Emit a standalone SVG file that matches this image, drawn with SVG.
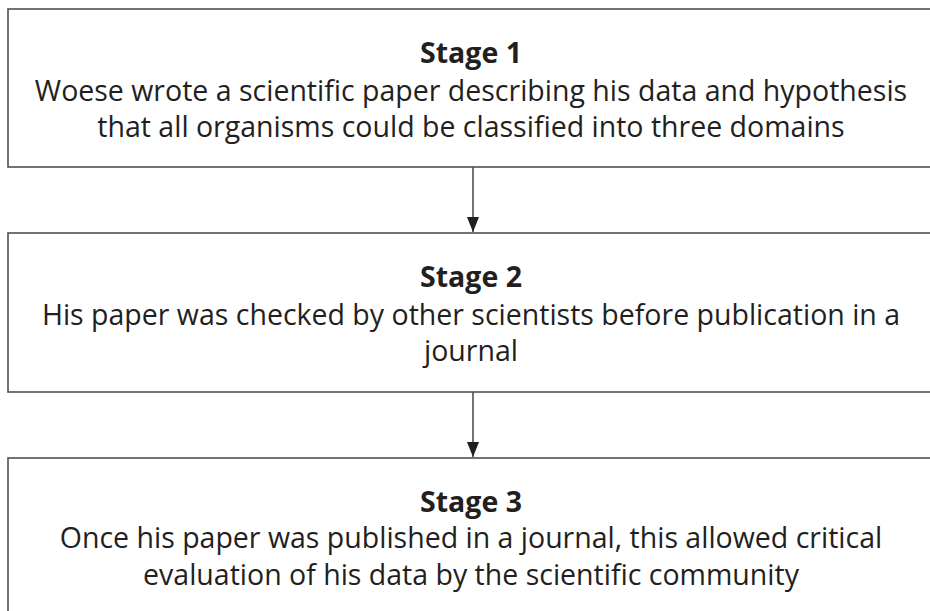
<svg xmlns="http://www.w3.org/2000/svg" width="930" height="611" viewBox="0 0 930 611">
<style>
.box{fill:#fff;stroke:#505050;stroke-width:1.6}
.t{font-family:"Open Sans","Noto Sans","Liberation Sans",sans-serif;font-size:28.5px;fill:#231f20;text-anchor:middle}
.h{font-weight:bold}
.c{stroke:#505050;stroke-width:1.6;fill:none;marker-end:url(#ah)}
</style>
<defs>
<marker id="ah" viewBox="0 0 15 12" refX="15" refY="6" markerWidth="15" markerHeight="12" markerUnits="userSpaceOnUse" orient="auto">
<path d="M0,0 L15,6 L0,12 Z" fill="#231f20"/>
</marker>
</defs>
<rect width="930" height="611" fill="#fff"/>
<g id="stage1">
<rect class="box" x="8" y="9" width="940" height="158"/>
<text class="t h" x="471" y="63">Stage 1</text>
<text class="t" x="471" y="101">Woese wrote a scientific paper describing his data and hypothesis</text>
<text class="t" x="471" y="137">that all organisms could be classified into three domains</text>
</g>
<g id="stage2">
<rect class="box" x="8" y="233" width="940" height="159"/>
<text class="t h" x="471" y="287">Stage 2</text>
<text class="t" x="471" y="325">His paper was checked by other scientists before publication in a</text>
<text class="t" x="471" y="361">journal</text>
</g>
<g id="stage3">
<rect class="box" x="8" y="458" width="940" height="170"/>
<text class="t h" x="471" y="512">Stage 3</text>
<text class="t" x="471" y="548">Once his paper was published in a journal, this allowed critical</text>
<text class="t" x="471" y="585">evaluation of his data by the scientific community</text>
</g>
<g id="connectors">
<line class="c" x1="473" y1="167" x2="473" y2="232"/>
<line class="c" x1="473" y1="392" x2="473" y2="457"/>
</g>
</svg>
